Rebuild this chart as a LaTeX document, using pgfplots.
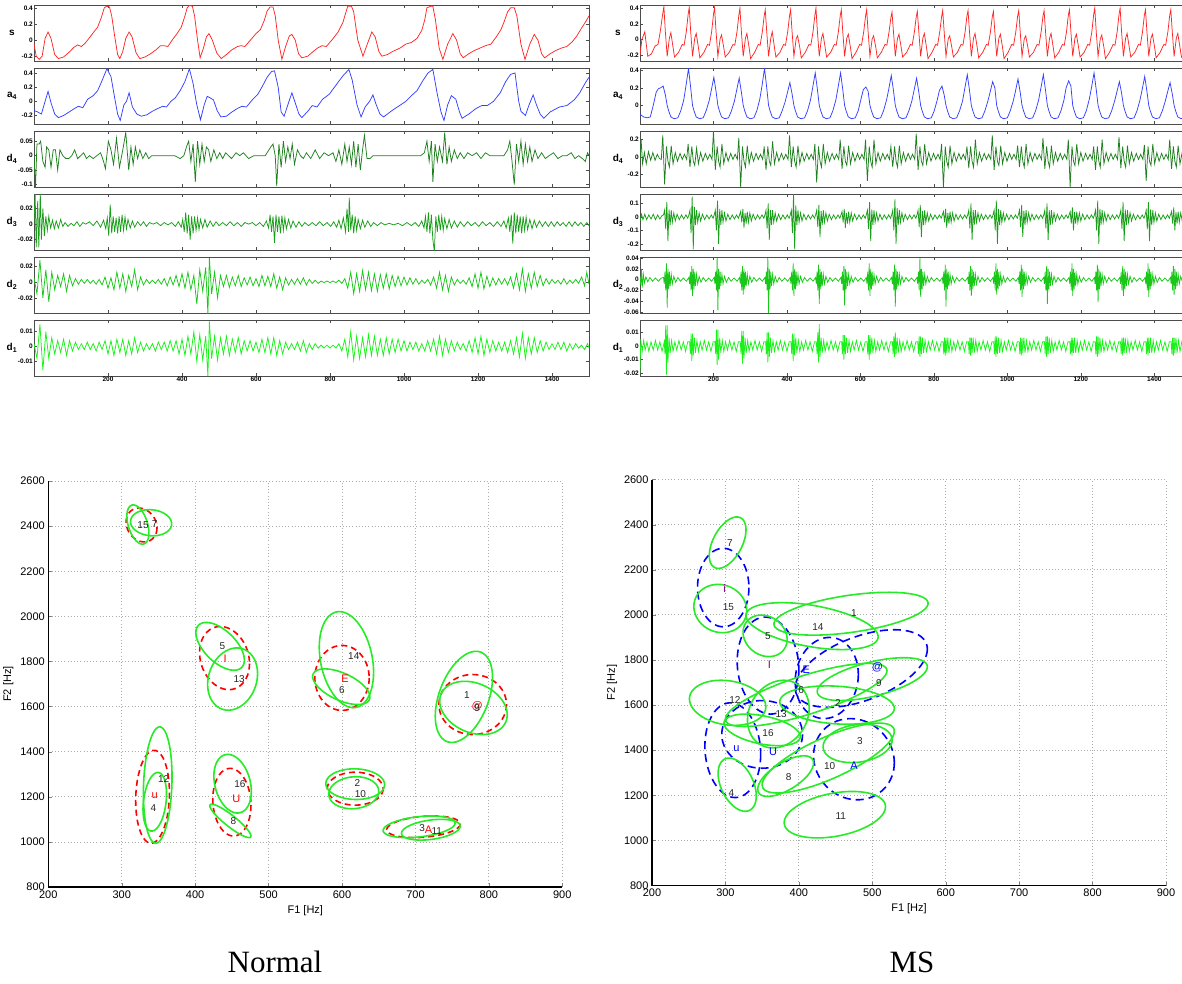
\documentclass[border=0pt]{standalone}
\usepackage{fontspec}
\setmainfont{Liberation Sans}
\newfontfamily\serifface{Liberation Serif}
\usepackage{pgfplots}
\pgfplotsset{compat=1.18}
\definecolor{sred}{rgb}{1,0.15,0.15}
\definecolor{ablue}{rgb}{0.2,0.25,1}
\definecolor{dfour}{rgb}{0.12,0.5,0.12}
\definecolor{dthree}{rgb}{0.1,0.62,0.1}
\definecolor{dtwo}{rgb}{0.1,0.78,0.1}
\definecolor{done}{rgb}{0.1,0.95,0.1}
\definecolor{egreen}{rgb}{0.15,0.92,0.15}
\tikzset{gE/.style={egreen, line width=1.6pt},
 rE/.style={red, line width=1.6pt, dash pattern=on 6pt off 4pt},
 bE/.style={blue, line width=1.6pt, dash pattern=on 8pt off 5pt}}
\pgfplotsset{
 wave/.style={scale only axis, width=#1, height=56pt, xmin=0, xmax=1500, scaled ticks=false,
  xtick={200,400,...,1400}, xticklabels={}, tick align=inside, major tick length=3pt,
  axis line style={line width=0.9pt, black!70}, tick style={black!70, line width=0.6pt},
  ticklabel style={font=\fontsize{6.5}{7}\selectfont\bfseries, inner sep=1pt},
  every axis y label/.style={at={(rel axis cs:0,0.5)}, anchor=center, xshift=-22pt, font=\fontsize{10}{12}\selectfont\bfseries},
  every axis plot/.append style={line width=0.75pt}},
 botx/.style={xticklabels={200,400,600,800,1000,1200,1400}},
 ellax/.style={scale only axis, width=514pt, height=406pt, xmin=200, xmax=900, ymin=800, ymax=2600, scaled ticks=false,
  xtick={200,300,...,900}, xticklabels={200,300,400,500,600,700,800,900},
  ytick={800,1000,...,2600}, yticklabels={800,1000,1200,1400,1600,1800,2000,2200,2400,2600},
  axis lines*=left, axis line style={line width=1.3pt, black}, tick align=inside, major tick length=4pt,
  grid=major, grid style={line width=0.8pt, gray!65, dash pattern=on 1pt off 2.2pt},
  ticklabel style={font=\fontsize{11}{12}\selectfont},
  xlabel={F1 [Hz]}, ylabel={F2 [Hz]}, label style={font=\fontsize{11}{12}\selectfont}},
 numlab/.style={draw=none, nodes near coords, point meta=explicit symbolic,
  nodes near coords style={anchor=center, inner sep=0pt, font=\fontsize{10}{11}\selectfont, text=black!85}},
 redlab/.style={draw=none, nodes near coords, point meta=explicit symbolic,
  nodes near coords style={anchor=center, inner sep=0pt, font=\fontsize{11}{12}\selectfont, text=red}},
 bluelab/.style={draw=none, nodes near coords, point meta=explicit symbolic,
  nodes near coords style={anchor=center, inner sep=0pt, font=\fontsize{11}{12}\selectfont, text=#1}}
}
\newcommand{\ellip}[6]{\addplot[#6, domain=0:360, samples=73, variable=\t] ({#1+#3*cos(\t)},{#2+#4*cos(\t+#5)});}
\begin{document}
\begin{tikzpicture}
\path[use as bounding box] (0,0) rectangle (1182pt,-983pt);
% ================= LEFT (Normal) waveforms =================
\begin{axis}[wave=555pt, at={(34pt,-5pt)}, anchor=north west, ymin=-0.26, ymax=0.435,
 ytick={-0.2,0,0.2,0.4}, yticklabels={-0.2,0,0.2,0.4}, ylabel={s}]
\addplot[sred] coordinates {(0,-0.05)(6,-0.20)(14,-0.24)(22,-0.20)(30,0.02)(38,0.10)(46,0.02)(56,-0.18)(66,-0.23)(80,-0.21)(95,-0.15)(108,-0.09)(118,-0.06)(128,-0.08)(138,-0.04)(150,0.03)(160,0.09)(172,0.16)(182,0.28)(190,0.40)(196,0.42)(204,0.41)(210,0.30)(218,0.05)(226,-0.18)(232,-0.23)(240,-0.14)(248,0.02)(257,0.10)(265,0.04)(276,-0.16)(286,-0.23)(300,-0.21)(315,-0.17)(330,-0.12)(342,-0.07)(352,-0.07)(362,-0.08)(372,-0.01)(385,0.07)(398,0.16)(408,0.30)(414,0.40)(420,0.43)(428,0.42)(434,0.30)(442,0.00)(449,-0.22)(458,-0.10)(466,0.04)(473,0.08)(482,0.00)(494,-0.16)(506,-0.23)(520,-0.18)(535,-0.12)(550,-0.08)(560,-0.07)(570,-0.08)(585,0.00)(600,0.08)(612,0.13)(622,0.24)(630,0.36)(638,0.41)(646,0.41)(652,0.30)(660,0.00)(670,-0.24)(680,-0.08)(690,0.05)(697,0.07)(706,0.00)(715,-0.17)(724,-0.22)(740,-0.20)(755,-0.14)(766,-0.10)(778,-0.07)(790,-0.08)(805,0.00)(822,0.10)(835,0.22)(842,0.33)(848,0.42)(858,0.42)(864,0.35)(875,0.00)(889,-0.20)(900,-0.06)(913,0.10)(922,0.04)(932,-0.14)(940,-0.20)(955,-0.18)(970,-0.14)(989,-0.10)(1005,-0.05)(1020,-0.03)(1035,0.02)(1048,0.12)(1056,0.25)(1062,0.40)(1072,0.42)(1078,0.42)(1085,0.25)(1095,-0.10)(1105,-0.24)(1118,-0.05)(1132,0.08)(1142,0.00)(1152,-0.17)(1160,-0.22)(1175,-0.17)(1190,-0.13)(1205,-0.10)(1220,-0.07)(1235,-0.05)(1251,0.05)(1262,0.13)(1270,0.22)(1280,0.35)(1288,0.40)(1298,0.40)(1305,0.30)(1316,-0.05)(1327,-0.24)(1340,-0.05)(1352,0.07)(1362,0.00)(1372,-0.17)(1380,-0.22)(1395,-0.17)(1410,-0.13)(1425,-0.10)(1440,-0.08)(1455,-0.02)(1467,0.05)(1480,0.15)(1490,0.22)(1500,0.30)};
\end{axis}
\begin{axis}[wave=555pt, at={(34pt,-68pt)}, anchor=north west, ymin=-0.32, ymax=0.47,
 ytick={-0.2,0,0.2,0.4}, yticklabels={-0.2,0,0.2,0.4}, ylabel={a\textsubscript{4}}]
\addplot[ablue] coordinates {(0,-0.13)(10,-0.15)(20,-0.18)(30,0.00)(38,0.14)(46,-0.02)(56,-0.18)(66,-0.23)(80,-0.20)(95,-0.15)(110,-0.10)(120,-0.07)(132,-0.09)(145,0.03)(160,0.08)(172,0.15)(183,0.28)(197,0.46)(208,0.35)(218,0.05)(226,-0.18)(233,-0.27)(243,-0.05)(250,0.00)(257,0.12)(266,-0.08)(278,-0.18)(290,-0.21)(305,-0.19)(320,-0.14)(335,-0.10)(348,-0.07)(358,-0.08)(370,0.00)(382,0.05)(395,0.15)(408,0.28)(420,0.46)(430,0.25)(440,-0.05)(450,-0.26)(460,-0.05)(468,0.07)(476,0.05)(485,0.02)(495,-0.13)(505,-0.22)(520,-0.21)(535,-0.15)(550,-0.10)(562,-0.07)(574,-0.08)(590,0.02)(605,0.10)(618,0.22)(630,0.34)(642,0.42)(650,0.43)(660,0.20)(668,-0.15)(676,-0.21)(686,-0.05)(697,0.12)(706,-0.02)(716,-0.18)(724,-0.23)(740,-0.14)(752,-0.06)(765,-0.08)(780,0.03)(798,0.10)(815,0.22)(835,0.36)(851,0.45)(860,0.30)(873,-0.05)(884,-0.22)(895,-0.08)(907,0.00)(916,0.09)(925,-0.05)(935,-0.18)(945,-0.22)(965,-0.14)(985,-0.07)(1005,0.00)(1020,0.08)(1035,0.15)(1052,0.30)(1065,0.40)(1078,0.45)(1090,0.10)(1100,-0.15)(1108,-0.27)(1118,-0.05)(1128,0.08)(1140,0.03)(1150,-0.15)(1157,-0.24)(1175,-0.18)(1195,-0.10)(1210,-0.06)(1225,-0.06)(1242,0.00)(1260,0.12)(1275,0.28)(1288,0.38)(1300,0.40)(1310,0.00)(1316,-0.14)(1328,-0.20)(1338,-0.05)(1349,0.09)(1358,-0.05)(1368,-0.18)(1378,-0.24)(1395,-0.15)(1420,-0.08)(1440,-0.06)(1460,0.02)(1475,0.12)(1490,0.26)(1500,0.34)};
\end{axis}
\begin{axis}[wave=555pt, at={(34pt,-131pt)}, anchor=north west, ymin=-0.108, ymax=0.085,
 ytick={-0.1,-0.05,0,0.05}, yticklabels={-0.1,-0.05,0,0.05}, ylabel={d\textsubscript{4}}]
\addplot[dfour] coordinates {(0,0.00)(4,-0.11)(8,0.04)(14,0.04)(18,0.05)(24,-0.02)(30,-0.04)(34,0.03)(40,0.02)(46,-0.04)(52,0.02)(58,0.02)(64,-0.05)(70,0.02)(78,0.00)(86,-0.01)(94,-0.01)(102,0.00)(110,0.02)(118,-0.01)(126,0.00)(134,0.01)(142,-0.01)(150,0.00)(160,-0.01)(170,0.00)(180,0.01)(188,-0.02)(193,-0.045)(201,0.05)(208,0.02)(215,-0.03)(223,0.06)(231,-0.04)(240,0.02)(248,0.08)(256,-0.05)(262,0.03)(268,-0.03)(274,0.03)(280,-0.01)(286,0.02)(294,-0.01)(302,0.01)(310,-0.01)(318,0.00)(326,0.00)(340,0.00)(360,0.00)(380,0.00)(395,-0.01)(405,0.00)(412,0.03)(418,0.05)(424,-0.02)(430,0.04)(436,-0.09)(442,0.05)(448,-0.03)(454,0.04)(460,-0.02)(466,0.03)(472,0.02)(478,-0.02)(486,0.02)(494,-0.01)(502,0.01)(510,-0.01)(518,0.01)(526,0.00)(534,-0.01)(546,0.01)(556,0.00)(566,0.01)(580,-0.01)(594,0.00)(610,0.00)(625,0.00)(640,0.03)(646,0.04)(652,0.00)(656,-0.105)(662,0.04)(668,-0.04)(674,0.05)(680,-0.02)(686,0.03)(692,-0.01)(698,0.04)(704,-0.03)(712,0.02)(720,0.00)(728,-0.01)(736,0.01)(748,-0.01)(760,0.02)(772,-0.01)(784,0.01)(796,0.00)(808,0.01)(816,-0.02)(824,0.02)(832,-0.03)(840,0.04)(846,-0.02)(852,0.03)(858,-0.03)(864,0.05)(870,-0.04)(876,0.04)(882,-0.05)(888,0.02)(893,0.07)(900,-0.01)(908,-0.01)(916,0.00)(930,0.00)(950,0.00)(970,0.00)(990,0.00)(1010,0.00)(1030,0.00)(1045,0.00)(1055,0.01)(1062,0.05)(1068,-0.02)(1074,0.05)(1078,-0.09)(1084,0.04)(1090,-0.02)(1096,0.03)(1104,-0.02)(1110,0.08)(1116,-0.03)(1122,0.03)(1128,-0.02)(1136,0.02)(1144,-0.01)(1152,0.01)(1162,-0.01)(1172,0.01)(1184,0.00)(1196,0.01)(1208,-0.01)(1220,0.01)(1232,0.00)(1244,0.00)(1256,0.00)(1270,0.00)(1280,0.02)(1286,0.05)(1292,-0.02)(1298,-0.10)(1304,0.04)(1310,-0.02)(1316,0.05)(1322,-0.03)(1328,0.04)(1334,-0.02)(1340,0.03)(1346,-0.02)(1354,0.02)(1362,-0.01)(1372,0.01)(1382,-0.01)(1392,0.00)(1404,0.01)(1416,-0.01)(1428,0.00)(1440,0.00)(1452,0.01)(1462,-0.01)(1472,0.00)(1482,-0.01)(1490,-0.02)(1496,0.01)(1500,0.00)};
\end{axis}
\begin{axis}[wave=555pt, at={(34pt,-194pt)}, anchor=north west, ymin=-0.0333, ymax=0.0387,
 ytick={-0.02,0,0.02}, yticklabels={-0.02,0,0.02}, ylabel={d\textsubscript{3}}]
\addplot[dthree] coordinates {(0,0.00)(3,0.04)(6,-0.03)(10,0.03)(13,-0.03)(17,0.04)(20,-0.02)(24,0.02)(28,-0.015)(32,0.01)(36,-0.008)(40,0.01)(45,-0.005)(50,0.005)(55,-0.006)(60,0.004)(66,-0.005)(72,0.006)(78,-0.003)(84,0.002)(92,-0.003)(100,0.001)(108,-0.002)(116,0.003)(124,-0.003)(132,0.002)(140,0.000)(150,0.003)(160,-0.002)(170,0.004)(180,-0.004)(188,0.005)(194,-0.006)(198,0.008)(202,-0.015)(206,0.025)(210,-0.012)(214,0.01)(218,-0.01)(222,0.008)(226,-0.012)(230,0.01)(234,-0.01)(238,0.012)(242,-0.008)(246,0.009)(250,-0.006)(254,0.006)(260,-0.005)(266,0.004)(272,-0.004)(280,0.003)(288,-0.002)(296,0.003)(304,-0.003)(312,0.002)(322,0.000)(332,0.002)(342,-0.002)(352,0.002)(362,-0.001)(372,0.002)(382,-0.003)(390,0.003)(398,-0.004)(402,0.006)(406,-0.01)(410,0.015)(414,-0.012)(418,0.012)(422,-0.02)(426,0.01)(430,-0.012)(434,0.01)(438,-0.008)(442,0.008)(446,-0.007)(450,0.006)(456,-0.005)(462,0.006)(468,-0.004)(476,0.004)(484,-0.003)(492,0.003)(500,-0.002)(510,0.002)(520,-0.002)(530,0.003)(540,-0.002)(550,0.002)(560,-0.003)(570,0.002)(580,0.000)(590,0.002)(600,-0.002)(610,0.002)(620,-0.003)(628,0.004)(634,-0.005)(638,0.012)(642,-0.01)(646,0.01)(650,-0.024)(654,0.012)(658,-0.01)(662,0.01)(666,-0.012)(670,0.011)(674,-0.008)(678,0.008)(682,-0.006)(688,0.006)(694,-0.005)(700,0.004)(708,-0.004)(716,0.003)(724,-0.003)(732,0.002)(742,-0.002)(752,0.002)(762,-0.002)(772,0.003)(782,-0.002)(792,0.002)(802,-0.003)(810,0.003)(818,-0.004)(824,0.005)(830,-0.006)(836,0.008)(842,-0.01)(846,0.02)(850,-0.01)(852,0.034)(856,-0.008)(860,0.012)(864,-0.012)(868,0.01)(872,-0.008)(876,0.006)(882,-0.006)(888,0.005)(894,-0.004)(902,0.004)(910,-0.003)(918,0.002)(928,-0.002)(938,0.002)(948,-0.001)(960,0.001)(972,-0.001)(984,0.001)(996,-0.002)(1008,0.002)(1020,-0.002)(1030,0.002)(1040,-0.003)(1048,0.004)(1054,-0.005)(1058,0.01)(1062,-0.01)(1066,0.015)(1070,-0.012)(1074,0.012)(1078,-0.02)(1082,-0.035)(1086,0.01)(1090,-0.01)(1094,0.012)(1098,-0.008)(1102,0.01)(1106,-0.008)(1110,0.007)(1116,-0.006)(1122,0.006)(1128,-0.005)(1136,0.004)(1144,-0.004)(1152,0.003)(1162,-0.003)(1172,0.003)(1182,-0.002)(1192,0.002)(1202,-0.003)(1212,0.003)(1222,-0.002)(1232,0.002)(1242,-0.003)(1252,0.003)(1262,-0.003)(1270,0.004)(1276,-0.005)(1282,0.008)(1286,-0.01)(1290,0.012)(1294,-0.025)(1298,0.015)(1302,-0.012)(1306,0.012)(1310,-0.01)(1314,0.01)(1318,-0.012)(1322,0.01)(1326,-0.008)(1330,0.009)(1334,-0.007)(1340,0.006)(1346,-0.006)(1352,0.005)(1358,-0.004)(1366,0.004)(1374,-0.003)(1382,0.003)(1390,-0.003)(1398,0.003)(1406,-0.003)(1414,0.003)(1422,-0.002)(1430,0.002)(1438,-0.003)(1446,0.003)(1454,-0.003)(1462,0.003)(1470,-0.002)(1478,0.002)(1486,-0.003)(1494,0.002)(1500,-0.002)};
\end{axis}
\begin{axis}[wave=555pt, at={(34pt,-257pt)}, anchor=north west, ymin=-0.039, ymax=0.031,
 ytick={-0.02,0,0.02}, yticklabels={-0.02,0,0.02}, ylabel={d\textsubscript{2}}]
\addplot[dtwo] coordinates {(0,0.005)(8,-0.015)(16,0.027)(24,-0.02)(32,0.015)(40,-0.025)(48,0.012)(56,-0.01)(64,0.008)(72,-0.006)(80,0.01)(88,-0.012)(96,0.008)(104,-0.005)(112,0.004)(120,-0.003)(128,0.003)(136,-0.002)(144,0.003)(152,-0.002)(160,0.002)(168,-0.003)(176,0.003)(184,-0.004)(192,0.006)(200,-0.008)(208,0.005)(216,-0.01)(224,0.012)(232,-0.008)(240,0.01)(248,-0.012)(256,0.008)(264,-0.006)(272,0.015)(280,-0.01)(288,0.006)(296,-0.004)(304,0.003)(312,-0.002)(320,0.002)(328,-0.002)(336,0.003)(344,-0.003)(352,0.004)(360,-0.005)(368,0.006)(376,-0.004)(384,0.008)(392,-0.006)(400,0.01)(408,-0.008)(416,0.012)(424,-0.01)(432,0.008)(440,-0.028)(448,0.015)(456,-0.012)(464,0.018)(470,-0.04)(474,0.03)(480,-0.015)(488,0.012)(496,-0.02)(504,0.008)(512,-0.006)(520,0.008)(528,-0.007)(536,0.006)(544,-0.005)(552,0.008)(560,-0.006)(568,0.005)(576,-0.004)(584,0.006)(592,-0.005)(600,0.004)(608,-0.006)(616,0.008)(624,-0.005)(632,0.007)(640,-0.006)(648,0.01)(656,-0.008)(664,0.006)(672,-0.01)(680,0.005)(688,-0.004)(696,0.003)(704,-0.003)(712,0.004)(720,-0.003)(728,0.005)(736,-0.004)(744,0.003)(752,-0.002)(760,0.002)(768,-0.002)(776,0.001)(784,-0.001)(792,0.001)(800,-0.001)(808,0.001)(816,-0.001)(824,0.002)(832,-0.002)(840,0.004)(848,-0.008)(856,0.012)(864,-0.015)(872,0.01)(880,-0.012)(888,0.014)(896,-0.01)(904,0.012)(912,-0.011)(920,0.01)(928,-0.012)(936,0.009)(944,-0.008)(952,0.01)(960,-0.009)(968,0.008)(976,-0.006)(984,0.007)(992,-0.005)(1000,0.006)(1008,-0.004)(1016,0.005)(1024,-0.003)(1032,0.004)(1040,-0.003)(1048,0.002)(1056,-0.002)(1064,0.003)(1072,-0.004)(1080,0.006)(1088,-0.008)(1096,0.012)(1104,-0.01)(1112,0.008)(1120,-0.012)(1128,0.006)(1136,-0.004)(1144,0.003)(1152,-0.002)(1160,0.002)(1168,-0.003)(1176,0.005)(1184,-0.006)(1192,0.01)(1200,-0.008)(1208,0.012)(1216,-0.009)(1224,0.007)(1232,-0.006)(1240,0.005)(1248,-0.004)(1256,0.004)(1264,-0.003)(1272,0.004)(1280,-0.004)(1288,0.006)(1296,-0.008)(1304,0.01)(1312,-0.01)(1320,0.016)(1328,-0.012)(1336,0.01)(1344,-0.008)(1352,0.012)(1360,-0.006)(1368,0.008)(1376,-0.005)(1384,0.004)(1392,-0.003)(1400,0.003)(1408,-0.002)(1416,0.002)(1424,-0.003)(1432,0.004)(1440,-0.003)(1448,0.002)(1456,-0.002)(1464,0.003)(1472,-0.002)(1480,0.006)(1488,-0.005)(1494,0.012)(1500,-0.003)};
\end{axis}
\begin{axis}[wave=555pt, botx, at={(34pt,-320pt)}, anchor=north west, ymin=-0.0198, ymax=0.0179,
 ytick={-0.01,0,0.01}, yticklabels={-0.01,0,0.01}, ylabel={d\textsubscript{1}}]
\addplot[done] coordinates {(0,0.002)(8,-0.008)(16,0.015)(24,-0.016)(32,0.01)(40,-0.008)(48,0.006)(56,-0.005)(64,0.004)(72,-0.004)(80,0.005)(88,-0.006)(96,0.004)(104,-0.003)(112,0.003)(120,-0.002)(128,0.002)(136,-0.002)(144,0.003)(152,-0.002)(160,0.002)(168,-0.003)(176,0.003)(184,-0.002)(192,0.004)(200,-0.005)(208,0.004)(216,-0.006)(224,0.005)(232,-0.004)(240,0.005)(248,-0.006)(256,0.004)(264,-0.005)(272,0.006)(280,-0.004)(288,0.003)(296,-0.003)(304,0.002)(312,-0.002)(320,0.002)(328,-0.003)(336,0.003)(344,-0.002)(352,0.003)(360,-0.003)(368,0.004)(376,-0.003)(384,0.004)(392,-0.005)(400,0.005)(408,-0.006)(416,0.007)(424,-0.005)(432,0.01)(440,-0.01)(448,0.008)(456,-0.009)(464,0.007)(470,-0.02)(474,0.017)(480,-0.008)(488,0.007)(496,-0.009)(504,0.006)(512,-0.005)(520,0.007)(528,-0.006)(536,0.005)(544,-0.004)(552,0.006)(560,-0.005)(568,0.004)(576,-0.003)(584,0.004)(592,-0.003)(600,0.003)(608,-0.004)(616,0.005)(624,-0.004)(632,0.006)(640,-0.005)(648,0.006)(656,-0.006)(664,0.004)(672,-0.005)(680,0.003)(688,-0.002)(696,0.002)(704,-0.002)(712,0.003)(720,-0.003)(728,0.004)(736,-0.004)(744,0.002)(752,-0.002)(760,0.002)(768,-0.001)(776,0.001)(784,-0.001)(792,0.001)(800,-0.001)(808,0.001)(816,-0.001)(824,0.002)(832,-0.003)(840,0.005)(848,-0.007)(856,0.01)(864,-0.009)(872,0.007)(880,-0.008)(888,0.006)(896,-0.007)(904,0.008)(912,-0.006)(920,0.007)(928,-0.006)(936,0.005)(944,-0.006)(952,0.006)(960,-0.005)(968,0.005)(976,-0.004)(984,0.005)(992,-0.003)(1000,0.004)(1008,-0.003)(1016,0.003)(1024,-0.002)(1032,0.003)(1040,-0.003)(1048,0.002)(1056,-0.003)(1064,0.004)(1072,-0.003)(1080,0.005)(1088,-0.005)(1096,0.007)(1104,-0.006)(1112,0.005)(1120,-0.004)(1128,0.004)(1136,-0.003)(1144,0.003)(1152,-0.002)(1160,0.002)(1168,-0.003)(1176,0.004)(1184,-0.004)(1192,0.006)(1200,-0.005)(1208,0.007)(1216,-0.006)(1224,0.005)(1232,-0.004)(1240,0.004)(1248,-0.003)(1256,0.003)(1264,-0.003)(1272,0.003)(1280,-0.004)(1288,0.004)(1296,-0.005)(1304,0.006)(1312,-0.007)(1320,0.009)(1328,-0.008)(1336,0.006)(1344,-0.005)(1352,0.006)(1360,-0.004)(1368,0.004)(1376,-0.003)(1384,0.003)(1392,-0.002)(1400,0.002)(1408,-0.002)(1416,0.003)(1424,-0.002)(1432,0.003)(1440,-0.003)(1448,0.002)(1456,-0.002)(1464,0.002)(1472,-0.001)(1480,0.001)(1488,-0.002)(1496,0.002)(1500,-0.001)};
\end{axis}
% ================= RIGHT (MS) waveforms =================
\begin{axis}[wave=551pt, at={(640pt,-5pt)}, anchor=north west, ymin=-0.27, ymax=0.44,
 ytick={-0.2,0,0.2,0.4}, yticklabels={-0.2,0,0.2,0.4}, ylabel={s}]
\addplot[sred] coordinates {(0,-0.20)(5,0.00)(13,0.10)(21,-0.21)(31,-0.18)(41,-0.08)(49,-0.06)(55,0.10)(61,0.30)
(65,0.42)(69,0.10)(74,-0.21)(80,0.02)(84,0.09)(90,-0.10)(94,-0.22)(105,-0.16)(115,-0.06)(120,-0.07)(126,0.10)(131,0.32)
(134,0.41)(138,0.10)(143,-0.21)(149,0.02)(153,0.08)(159,-0.10)(163,-0.23)(174,-0.16)(184,-0.06)(189,-0.07)(195,0.10)(200,0.32)
(203,0.41)(207,0.10)(212,-0.21)(218,0.01)(222,0.06)(228,-0.10)(232,-0.22)(243,-0.16)(253,-0.06)(258,-0.07)(264,0.10)(269,0.31)
(272,0.40)(276,0.10)(281,-0.21)(287,0.02)(291,0.08)(297,-0.10)(301,-0.24)(312,-0.16)(322,-0.06)(327,-0.07)(333,0.10)(338,0.30)
(341,0.38)(345,0.10)(350,-0.21)(356,0.02)(360,0.10)(366,-0.10)(370,-0.22)(381,-0.16)(391,-0.06)(396,-0.07)(402,0.10)(407,0.30)
(410,0.38)(414,0.10)(419,-0.21)(425,0.01)(429,0.05)(435,-0.10)(439,-0.23)(450,-0.16)(460,-0.06)(465,-0.07)(471,0.10)(476,0.31)
(479,0.40)(483,0.10)(488,-0.21)(494,0.02)(498,0.08)(504,-0.10)(508,-0.22)(519,-0.16)(529,-0.06)(534,-0.07)(540,0.10)(545,0.30)
(548,0.38)(552,0.10)(557,-0.21)(563,0.02)(567,0.07)(573,-0.10)(577,-0.24)(588,-0.16)(598,-0.06)(603,-0.07)(609,0.10)(614,0.30)
(617,0.38)(621,0.10)(626,-0.21)(632,0.01)(636,0.05)(642,-0.10)(646,-0.23)(657,-0.16)(667,-0.06)(672,-0.07)(678,0.10)(683,0.28)
(686,0.35)(690,0.10)(695,-0.21)(701,0.02)(705,0.07)(711,-0.10)(715,-0.22)(726,-0.16)(736,-0.06)(741,-0.07)(747,0.10)(752,0.29)
(755,0.36)(759,0.10)(764,-0.21)(770,0.02)(774,0.08)(780,-0.10)(784,-0.24)(795,-0.16)(805,-0.06)(810,-0.07)(816,0.10)(821,0.29)
(824,0.37)(828,0.10)(833,-0.21)(839,0.01)(843,0.05)(849,-0.10)(853,-0.22)(864,-0.16)(874,-0.06)(879,-0.07)(885,0.10)(890,0.30)
(893,0.37)(897,0.10)(902,-0.21)(908,0.02)(912,0.08)(918,-0.10)(922,-0.23)(933,-0.16)(943,-0.06)(948,-0.07)(954,0.10)(959,0.29)
(962,0.36)(966,0.10)(971,-0.21)(977,0.02)(981,0.07)(987,-0.10)(991,-0.24)(1002,-0.16)(1012,-0.06)(1017,-0.07)(1023,0.10)(1028,0.30)
(1031,0.37)(1035,0.10)(1040,-0.21)(1046,0.01)(1050,0.05)(1056,-0.10)(1060,-0.22)(1071,-0.16)(1081,-0.06)(1086,-0.07)(1092,0.10)(1097,0.30)
(1100,0.37)(1104,0.10)(1109,-0.21)(1115,0.02)(1119,0.08)(1125,-0.10)(1129,-0.23)(1140,-0.16)(1150,-0.06)(1155,-0.07)(1161,0.10)(1166,0.31)
(1169,0.38)(1173,0.10)(1178,-0.21)(1184,0.02)(1188,0.07)(1194,-0.10)(1198,-0.22)(1209,-0.16)(1219,-0.06)(1224,-0.07)(1230,0.10)(1235,0.32)
(1238,0.40)(1242,0.10)(1247,-0.21)(1253,0.01)(1257,0.06)(1263,-0.10)(1267,-0.24)(1278,-0.16)(1288,-0.06)(1293,-0.07)(1299,0.10)(1304,0.32)
(1307,0.40)(1311,0.10)(1316,-0.21)(1322,0.02)(1326,0.08)(1332,-0.10)(1336,-0.22)(1347,-0.16)(1357,-0.06)(1362,-0.07)(1368,0.10)(1373,0.31)
(1376,0.38)(1380,0.10)(1385,-0.21)(1391,0.02)(1395,0.07)(1401,-0.10)(1405,-0.23)(1416,-0.16)(1426,-0.06)(1431,-0.07)(1437,0.10)(1442,0.31)
(1445,0.38)(1449,0.10)(1454,-0.21)(1460,0.02)(1464,0.08)(1470,-0.10)(1474,-0.22)(1485,-0.16)(1495,-0.06)(1500,-0.07)};
\end{axis}
\begin{axis}[wave=551pt, at={(640pt,-68pt)}, anchor=north west, ymin=-0.21, ymax=0.425,
 ytick={0,0.2,0.4}, yticklabels={0,0.2,0.4}, ylabel={a\textsubscript{4}}]
\addplot[ablue] coordinates {(0,-0.10)(10,-0.13)(20,-0.14)(28,-0.13)(36,0.00)(44,0.15)(50,0.19)(56,0.20)
(63,0.22)(69,0.12)(74,0.00)(78,-0.06)(84,-0.13)(93,-0.15)(103,-0.14)(111,-0.06)(119,0.06)(125,0.22)
(132,0.42)(138,0.20)(143,0.00)(147,-0.06)(153,-0.13)(162,-0.15)(172,-0.14)(180,-0.06)(188,0.05)(194,0.17)
(201,0.32)(207,0.16)(212,0.00)(216,-0.06)(222,-0.13)(231,-0.15)(241,-0.14)(249,-0.06)(257,0.05)(263,0.17)
(270,0.31)(276,0.15)(281,0.00)(285,-0.06)(291,-0.13)(300,-0.15)(310,-0.14)(318,-0.06)(326,0.07)(332,0.22)
(339,0.42)(345,0.20)(350,0.00)(354,-0.06)(360,-0.13)(369,-0.15)(379,-0.14)(387,-0.06)(395,0.04)(401,0.14)
(408,0.26)(414,0.13)(419,0.00)(423,-0.06)(429,-0.13)(438,-0.15)(448,-0.14)(456,-0.06)(464,0.06)(470,0.20)
(477,0.37)(483,0.18)(488,0.00)(492,-0.06)(498,-0.13)(507,-0.15)(517,-0.14)(525,-0.06)(533,0.06)(539,0.20)
(546,0.37)(552,0.18)(557,0.00)(561,-0.06)(567,-0.13)(576,-0.15)(586,-0.14)(594,-0.06)(602,0.08)(608,0.18)
(615,0.21)(621,0.16)(626,0.00)(630,-0.06)(636,-0.13)(645,-0.15)(655,-0.14)(663,-0.06)(671,0.06)(677,0.18)
(684,0.34)(690,0.17)(695,0.00)(699,-0.06)(705,-0.13)(714,-0.15)(724,-0.14)(732,-0.06)(740,0.05)(746,0.17)
(753,0.31)(759,0.15)(764,0.00)(768,-0.06)(774,-0.13)(783,-0.15)(793,-0.14)(801,-0.06)(809,0.06)(815,0.17)
(822,0.22)(828,0.12)(833,0.00)(837,-0.06)(843,-0.13)(852,-0.15)(862,-0.14)(870,-0.06)(878,0.05)(884,0.19)
(891,0.35)(897,0.17)(902,0.00)(906,-0.06)(912,-0.13)(921,-0.15)(931,-0.14)(939,-0.06)(947,0.05)(953,0.15)
(960,0.27)(966,0.20)(971,0.00)(975,-0.06)(981,-0.13)(990,-0.15)(1000,-0.14)(1008,-0.06)(1016,0.05)(1022,0.16)
(1029,0.30)(1035,0.15)(1040,0.00)(1044,-0.06)(1050,-0.13)(1059,-0.15)(1069,-0.14)(1077,-0.06)(1085,0.06)(1091,0.19)
(1098,0.35)(1104,0.17)(1109,0.00)(1113,-0.06)(1119,-0.13)(1128,-0.15)(1138,-0.14)(1146,-0.06)(1154,0.06)(1160,0.20)
(1167,0.28)(1173,0.22)(1178,0.00)(1182,-0.06)(1188,-0.13)(1197,-0.15)(1207,-0.14)(1215,-0.06)(1223,0.07)(1229,0.20)
(1236,0.37)(1242,0.18)(1247,0.00)(1251,-0.06)(1257,-0.13)(1266,-0.15)(1276,-0.14)(1284,-0.06)(1292,0.05)(1298,0.15)
(1305,0.27)(1311,0.14)(1316,0.00)(1320,-0.06)(1326,-0.13)(1335,-0.15)(1345,-0.14)(1353,-0.06)(1361,0.06)(1367,0.18)
(1374,0.33)(1380,0.16)(1385,0.00)(1389,-0.06)(1395,-0.13)(1404,-0.15)(1414,-0.14)(1422,-0.06)(1430,0.05)(1436,0.15)
(1443,0.26)(1449,0.13)(1454,0.00)(1458,-0.06)(1464,-0.13)(1473,-0.15)(1483,-0.14)(1491,-0.06)(1500,0.05)};
\end{axis}
\begin{axis}[wave=551pt, at={(640pt,-131pt)}, anchor=north west, ymin=-0.35, ymax=0.3,
 ytick={-0.2,0,0.2}, yticklabels={-0.2,0,0.2}, ylabel={d\textsubscript{4}}]
\addplot[dfour] coordinates {(0,-0.05)(3,0.2)(7,-0.08)(12,0.05)(17,-0.08)(23,0.06)(29,-0.04)(35,0.05)(41,-0.04)(47,0.03)(53,-0.02)
(58,-0.03)(62,0.25)(67,-0.32)(72,0.12)(76,-0.05)(80,-0.12)(85,0.13)(90,-0.08)(96,0.05)(102,-0.05)(109,0.04)(115,-0.03)(121,0.03)
(127,-0.03)(131,0.15)(136,-0.12)(141,0.12)(145,-0.05)(149,-0.10)(154,0.10)(159,-0.08)(165,0.05)(171,-0.05)(178,0.04)(184,-0.03)(190,0.03)
(196,-0.03)(200,0.30)(205,-0.15)(210,0.12)(214,-0.05)(218,-0.12)(223,0.15)(228,-0.08)(234,0.05)(240,-0.05)(247,0.04)(253,-0.03)(259,0.03)
(265,-0.03)(269,0.22)(274,-0.35)(279,0.12)(283,-0.05)(287,-0.12)(292,0.13)(297,-0.08)(303,0.05)(309,-0.05)(316,0.04)(322,-0.03)(328,0.03)
(334,-0.03)(338,0.12)(343,-0.15)(348,0.12)(352,-0.05)(356,-0.10)(361,0.18)(366,-0.08)(372,0.05)(378,-0.05)(385,0.04)(391,-0.03)(397,0.03)
(403,-0.03)(407,0.25)(412,-0.12)(417,0.12)(421,-0.05)(425,-0.12)(430,0.13)(435,-0.08)(441,0.05)(447,-0.05)(454,0.04)(460,-0.03)(466,0.03)
(472,-0.03)(476,0.15)(481,-0.30)(486,0.12)(490,-0.05)(494,-0.12)(499,0.15)(504,-0.08)(510,0.05)(516,-0.05)(523,0.04)(529,-0.03)(535,0.03)
(541,-0.03)(545,0.20)(550,-0.14)(555,0.12)(559,-0.05)(563,-0.10)(568,0.13)(573,-0.08)(579,0.05)(585,-0.05)(592,0.04)(598,-0.03)(604,0.03)
(610,-0.03)(614,0.20)(619,-0.28)(624,0.12)(628,-0.05)(632,-0.12)(637,0.20)(642,-0.08)(648,0.05)(654,-0.05)(661,0.04)(667,-0.03)(673,0.03)
(679,-0.03)(683,0.12)(688,-0.12)(693,0.12)(697,-0.05)(701,-0.12)(706,0.13)(711,-0.08)(717,0.05)(723,-0.05)(730,0.04)(736,-0.03)(742,0.03)
(748,-0.03)(752,0.27)(757,-0.15)(762,0.12)(766,-0.05)(770,-0.10)(775,0.15)(780,-0.08)(786,0.05)(792,-0.05)(799,0.04)(805,-0.03)(811,0.03)
(817,-0.03)(821,0.15)(826,-0.35)(831,0.12)(835,-0.05)(839,-0.12)(844,0.13)(849,-0.08)(855,0.05)(861,-0.05)(868,0.04)(874,-0.03)(880,0.03)
(886,-0.03)(890,0.12)(895,-0.13)(900,0.12)(904,-0.05)(908,-0.12)(913,0.20)(918,-0.08)(924,0.05)(930,-0.05)(937,0.04)(943,-0.03)(949,0.03)
(955,-0.03)(959,0.25)(964,-0.15)(969,0.12)(973,-0.05)(977,-0.10)(982,0.13)(987,-0.08)(993,0.05)(999,-0.05)(1006,0.04)(1012,-0.03)(1018,0.03)
(1024,-0.03)(1028,0.13)(1033,-0.12)(1038,0.12)(1042,-0.05)(1046,-0.12)(1051,0.15)(1056,-0.08)(1062,0.05)(1068,-0.05)(1075,0.04)(1081,-0.03)(1087,0.03)
(1093,-0.03)(1097,0.22)(1102,-0.14)(1107,0.12)(1111,-0.05)(1115,-0.12)(1120,0.13)(1125,-0.08)(1131,0.05)(1137,-0.05)(1144,0.04)(1150,-0.03)(1156,0.03)
(1162,-0.03)(1166,0.20)(1171,-0.35)(1176,0.12)(1180,-0.05)(1184,-0.10)(1189,0.15)(1194,-0.08)(1200,0.05)(1206,-0.05)(1213,0.04)(1219,-0.03)(1225,0.03)
(1231,-0.03)(1235,0.12)(1240,-0.15)(1245,0.12)(1249,-0.05)(1253,-0.12)(1258,0.20)(1263,-0.08)(1269,0.05)(1275,-0.05)(1282,0.04)(1288,-0.03)(1294,0.03)
(1300,-0.03)(1304,0.23)(1309,-0.13)(1314,0.12)(1318,-0.05)(1322,-0.12)(1327,0.13)(1332,-0.08)(1338,0.05)(1344,-0.05)(1351,0.04)(1357,-0.03)(1363,0.03)
(1369,-0.03)(1373,0.14)(1378,-0.28)(1383,0.12)(1387,-0.05)(1391,-0.10)(1396,0.15)(1401,-0.08)(1407,0.05)(1413,-0.05)(1420,0.04)(1426,-0.03)(1432,0.03)
(1438,-0.03)(1442,0.20)(1447,-0.14)(1452,0.12)(1456,-0.05)(1460,-0.12)(1465,0.13)(1470,-0.08)(1476,0.05)(1482,-0.05)(1489,0.04)(1495,-0.03)(1500,0.03)};
\end{axis}
\begin{axis}[wave=551pt, at={(640pt,-194pt)}, anchor=north west, ymin=-0.245, ymax=0.17,
 ytick={-0.2,-0.1,0,0.1}, yticklabels={-0.2,-0.1,0,0.1}, ylabel={d\textsubscript{3}}]
\addplot[dthree] coordinates {(0,-0.03)(4,0.02)(8,-0.02)(13,0.02)(18,-0.02)(24,0.015)(30,-0.015)(36,0.02)(42,-0.02)(48,0.015)(54,-0.015)(60,0.01)
(64,0.015)(67,0.05)(70,-0.09)(73,0.11)(76,-0.18)(79,0.055)(82,-0.06)(85,0.05)(88,-0.04)(92,0.03)(96,-0.03)(101,0.02)(107,-0.02)(113,0.015)(119,-0.015)(125,0.015)(130,-0.01)
(133,0.015)(136,0.05)(139,-0.12)(142,0.15)(145,-0.24)(148,0.075)(151,-0.06)(154,0.05)(157,-0.04)(161,0.03)(165,-0.03)(170,0.02)(176,-0.02)(182,0.015)(188,-0.015)(194,0.015)(199,-0.01)
(202,0.015)(205,0.05)(208,-0.10)(211,0.12)(214,-0.20)(217,0.06)(220,-0.06)(223,0.05)(226,-0.04)(230,0.03)(234,-0.03)(239,0.02)(245,-0.02)(251,0.015)(257,-0.015)(263,0.015)(268,-0.01)
(271,0.015)(274,0.04)(277,-0.04)(280,0.06)(283,-0.08)(286,0.03)(289,-0.05)(292,0.04)(295,-0.04)(299,0.03)(303,-0.03)(308,0.02)(314,-0.02)(320,0.015)(326,-0.015)(332,0.015)(337,-0.01)
(340,0.015)(343,0.05)(346,-0.085)(349,0.10)(352,-0.17)(355,0.05)(358,-0.06)(361,0.05)(364,-0.04)(368,0.03)(372,-0.03)(377,0.02)(383,-0.02)(389,0.015)(395,-0.015)(401,0.015)(406,-0.01)
(409,0.015)(412,0.05)(415,-0.12)(418,0.17)(421,-0.24)(424,0.085)(427,-0.06)(430,0.05)(433,-0.04)(437,0.03)(441,-0.03)(446,0.02)(452,-0.02)(458,0.015)(464,-0.015)(470,0.015)(475,-0.01)
(478,0.015)(481,0.05)(484,-0.075)(487,0.09)(490,-0.15)(493,0.045)(496,-0.06)(499,0.05)(502,-0.04)(506,0.03)(510,-0.03)(515,0.02)(521,-0.02)(527,0.015)(533,-0.015)(539,0.015)(544,-0.01)
(547,0.015)(550,0.04)(553,-0.04)(556,0.06)(559,-0.08)(562,0.03)(565,-0.05)(568,0.04)(571,-0.04)(575,0.03)(579,-0.03)(584,0.02)(590,-0.02)(596,0.015)(602,-0.015)(608,0.015)(613,-0.01)
(616,0.015)(619,0.05)(622,-0.09)(625,0.11)(628,-0.18)(631,0.055)(634,-0.06)(637,0.05)(640,-0.04)(644,0.03)(648,-0.03)(653,0.02)(659,-0.02)(665,0.015)(671,-0.015)(677,0.015)(682,-0.01)
(685,0.015)(688,0.05)(691,-0.10)(694,0.13)(697,-0.20)(700,0.065)(703,-0.06)(706,0.05)(709,-0.04)(713,0.03)(717,-0.03)(722,0.02)(728,-0.02)(734,0.015)(740,-0.015)(746,0.015)(751,-0.01)
(754,0.015)(757,0.05)(760,-0.075)(763,0.09)(766,-0.15)(769,0.045)(772,-0.06)(775,0.05)(778,-0.04)(782,0.03)(786,-0.03)(791,0.02)(797,-0.02)(803,0.015)(809,-0.015)(815,0.015)(820,-0.01)
(823,0.015)(826,0.04)(829,-0.04)(832,0.06)(835,-0.08)(838,0.03)(841,-0.05)(844,0.04)(847,-0.04)(851,0.03)(855,-0.03)(860,0.02)(866,-0.02)(872,0.015)(878,-0.015)(884,0.015)(889,-0.01)
(892,0.015)(895,0.05)(898,-0.085)(901,0.10)(904,-0.17)(907,0.05)(910,-0.06)(913,0.05)(916,-0.04)(920,0.03)(924,-0.03)(929,0.02)(935,-0.02)(941,0.015)(947,-0.015)(953,0.015)(958,-0.01)
(961,0.015)(964,0.05)(967,-0.10)(970,0.12)(973,-0.20)(976,0.06)(979,-0.06)(982,0.05)(985,-0.04)(989,0.03)(993,-0.03)(998,0.02)(1004,-0.02)(1010,0.015)(1016,-0.015)(1022,0.015)(1027,-0.01)
(1030,0.015)(1033,0.05)(1036,-0.075)(1039,0.09)(1042,-0.15)(1045,0.045)(1048,-0.06)(1051,0.05)(1054,-0.04)(1058,0.03)(1062,-0.03)(1067,0.02)(1073,-0.02)(1079,0.015)(1085,-0.015)(1091,0.015)(1096,-0.01)
(1099,0.015)(1102,0.05)(1105,-0.085)(1108,0.10)(1111,-0.17)(1114,0.05)(1117,-0.06)(1120,0.05)(1123,-0.04)(1127,0.03)(1131,-0.03)(1136,0.02)(1142,-0.02)(1148,0.015)(1154,-0.015)(1160,0.015)(1165,-0.01)
(1168,0.015)(1171,0.04)(1174,-0.05)(1177,0.07)(1180,-0.10)(1183,0.035)(1186,-0.05)(1189,0.04)(1192,-0.04)(1196,0.03)(1200,-0.03)(1205,0.02)(1211,-0.02)(1217,0.015)(1223,-0.015)(1229,0.015)(1234,-0.01)
(1237,0.015)(1240,0.05)(1243,-0.10)(1246,0.12)(1249,-0.20)(1252,0.06)(1255,-0.06)(1258,0.05)(1261,-0.04)(1265,0.03)(1269,-0.03)(1274,0.02)(1280,-0.02)(1286,0.015)(1292,-0.015)(1298,0.015)(1303,-0.01)
(1306,0.015)(1309,0.05)(1312,-0.09)(1315,0.11)(1318,-0.18)(1321,0.055)(1324,-0.06)(1327,0.05)(1330,-0.04)(1334,0.03)(1338,-0.03)(1343,0.02)(1349,-0.02)(1355,0.015)(1361,-0.015)(1367,0.015)(1372,-0.01)
(1375,0.015)(1378,0.05)(1381,-0.09)(1384,0.11)(1387,-0.18)(1390,0.055)(1393,-0.06)(1396,0.05)(1399,-0.04)(1403,0.03)(1407,-0.03)(1412,0.02)(1418,-0.02)(1424,0.015)(1430,-0.015)(1436,0.015)(1441,-0.01)
(1444,0.015)(1447,0.04)(1450,-0.05)(1453,0.07)(1456,-0.10)(1459,0.035)(1462,-0.05)(1465,0.04)(1468,-0.04)(1472,0.03)(1476,-0.03)(1481,0.02)(1487,-0.02)(1493,0.015)(1500,-0.015)};
\end{axis}
\begin{axis}[wave=551pt, at={(640pt,-257pt)}, anchor=north west, ymin=-0.062, ymax=0.042,
 ytick={-0.06,-0.04,-0.02,0,0.02,0.04}, yticklabels={-0.06,-0.04,-0.02,0,0.02,0.04}, ylabel={d\textsubscript{2}}]
\addplot[dtwo] coordinates {(0,0.005)(2,-0.01)(4,0.02)(6,-0.015)(9,0.01)(12,-0.006)(16,0.005)(21,-0.004)(27,0.004)(34,-0.003)(42,0.003)(50,-0.003)(58,0.003)
(64,0.004)(66,-0.008)(68,0.015)(70,-0.02)(72,0.03)(74,-0.052)(76,0.02)(78,-0.018)(80,0.015)(82,-0.012)(85,0.01)(88,-0.008)(92,0.006)(97,-0.005)(103,0.004)(110,-0.003)(118,0.003)(126,-0.003)
(133,0.004)(135,-0.008)(137,0.015)(139,-0.02)(141,0.025)(143,-0.03)(145,0.02)(147,-0.018)(149,0.015)(151,-0.012)(154,0.01)(157,-0.008)(161,0.006)(166,-0.005)(172,0.004)(179,-0.003)(187,0.003)(195,-0.003)
(202,0.004)(204,-0.008)(206,0.015)(208,-0.02)(210,0.04)(212,-0.057)(214,0.02)(216,-0.018)(218,0.015)(220,-0.012)(223,0.01)(226,-0.008)(230,0.006)(235,-0.005)(241,0.004)(248,-0.003)(256,0.003)(264,-0.003)
(271,0.004)(273,-0.008)(275,0.015)(277,-0.02)(279,0.025)(281,-0.028)(283,0.02)(285,-0.018)(287,0.015)(289,-0.012)(292,0.01)(295,-0.008)(299,0.006)(304,-0.005)(310,0.004)(317,-0.003)(325,0.003)(333,-0.003)
(340,0.004)(342,-0.008)(344,0.015)(346,-0.02)(348,0.04)(350,-0.062)(352,0.02)(354,-0.018)(356,0.015)(358,-0.012)(361,0.01)(364,-0.008)(368,0.006)(373,-0.005)(379,0.004)(386,-0.003)(394,0.003)(402,-0.003)
(409,0.004)(411,-0.008)(413,0.015)(415,-0.02)(417,0.03)(419,-0.03)(421,0.02)(423,-0.018)(425,0.015)(427,-0.012)(430,0.01)(433,-0.008)(437,0.006)(442,-0.005)(448,0.004)(455,-0.003)(463,0.003)(471,-0.003)
(478,0.004)(480,-0.008)(482,0.015)(484,-0.02)(486,0.028)(488,-0.045)(490,0.02)(492,-0.018)(494,0.015)(496,-0.012)(499,0.01)(502,-0.008)(506,0.006)(511,-0.005)(517,0.004)(524,-0.003)(532,0.003)(540,-0.003)
(547,0.004)(549,-0.008)(551,0.015)(553,-0.02)(555,0.025)(557,-0.048)(559,0.02)(561,-0.018)(563,0.015)(565,-0.012)(568,0.01)(571,-0.008)(575,0.006)(580,-0.005)(586,0.004)(593,-0.003)(601,0.003)(609,-0.003)
(616,0.004)(618,-0.008)(620,0.015)(622,-0.02)(624,0.03)(626,-0.03)(628,0.02)(630,-0.018)(632,0.015)(634,-0.012)(637,0.01)(640,-0.008)(644,0.006)(649,-0.005)(655,0.004)(662,-0.003)(670,0.003)(678,-0.003)
(685,0.004)(687,-0.008)(689,0.015)(691,-0.02)(693,0.028)(695,-0.05)(697,0.02)(699,-0.018)(701,0.015)(703,-0.012)(706,0.01)(709,-0.008)(713,0.006)(718,-0.005)(724,0.004)(731,-0.003)(739,0.003)(747,-0.003)
(754,0.004)(756,-0.008)(758,0.015)(760,-0.02)(762,0.04)(764,-0.032)(766,0.02)(768,-0.018)(770,0.015)(772,-0.012)(775,0.01)(778,-0.008)(782,0.006)(787,-0.005)(793,0.004)(800,-0.003)(808,0.003)(816,-0.003)
(823,0.004)(825,-0.008)(827,0.015)(829,-0.02)(831,0.028)(833,-0.05)(835,0.02)(837,-0.018)(839,0.015)(841,-0.012)(844,0.01)(847,-0.008)(851,0.006)(856,-0.005)(862,0.004)(869,-0.003)(877,0.003)(885,-0.003)
(892,0.004)(894,-0.008)(896,0.015)(898,-0.02)(900,0.025)(902,-0.03)(904,0.02)(906,-0.018)(908,0.015)(910,-0.012)(913,0.01)(916,-0.008)(920,0.006)(925,-0.005)(931,0.004)(938,-0.003)(946,0.003)(954,-0.003)
(961,0.004)(963,-0.008)(965,0.015)(967,-0.02)(969,0.03)(971,-0.028)(973,0.02)(975,-0.018)(977,0.015)(979,-0.012)(982,0.01)(985,-0.008)(989,0.006)(994,-0.005)(1000,0.004)(1007,-0.003)(1015,0.003)(1023,-0.003)
(1030,0.004)(1032,-0.008)(1034,0.015)(1036,-0.02)(1038,0.028)(1040,-0.032)(1042,0.02)(1044,-0.018)(1046,0.015)(1048,-0.012)(1051,0.01)(1054,-0.008)(1058,0.006)(1063,-0.005)(1069,0.004)(1076,-0.003)(1084,0.003)(1092,-0.003)
(1099,0.004)(1101,-0.008)(1103,0.015)(1105,-0.02)(1107,0.025)(1109,-0.045)(1111,0.02)(1113,-0.018)(1115,0.015)(1117,-0.012)(1120,0.01)(1123,-0.008)(1127,0.006)(1132,-0.005)(1138,0.004)(1145,-0.003)(1153,0.003)(1161,-0.003)
(1168,0.004)(1170,-0.008)(1172,0.015)(1174,-0.02)(1176,0.03)(1178,-0.03)(1180,0.02)(1182,-0.018)(1184,0.015)(1186,-0.012)(1189,0.01)(1192,-0.008)(1196,0.006)(1201,-0.005)(1207,0.004)(1214,-0.003)(1222,0.003)(1230,-0.003)
(1237,0.004)(1239,-0.008)(1241,0.015)(1243,-0.02)(1245,0.028)(1247,-0.042)(1249,0.02)(1251,-0.018)(1253,0.015)(1255,-0.012)(1258,0.01)(1261,-0.008)(1265,0.006)(1270,-0.005)(1276,0.004)(1283,-0.003)(1291,0.003)(1299,-0.003)
(1306,0.004)(1308,-0.008)(1310,0.015)(1312,-0.02)(1314,0.025)(1316,-0.03)(1318,0.02)(1320,-0.018)(1322,0.015)(1324,-0.012)(1327,0.01)(1330,-0.008)(1334,0.006)(1339,-0.005)(1345,0.004)(1352,-0.003)(1360,0.003)(1368,-0.003)
(1375,0.004)(1377,-0.008)(1379,0.015)(1381,-0.02)(1383,0.03)(1385,-0.032)(1387,0.02)(1389,-0.018)(1391,0.015)(1393,-0.012)(1396,0.01)(1399,-0.008)(1403,0.006)(1408,-0.005)(1414,0.004)(1421,-0.003)(1429,0.003)(1437,-0.003)
(1444,0.004)(1446,-0.008)(1448,0.015)(1450,-0.02)(1452,0.025)(1454,-0.028)(1456,0.02)(1458,-0.018)(1460,0.015)(1462,-0.012)(1465,0.01)(1468,-0.008)(1472,0.006)(1477,-0.005)(1483,0.004)(1490,-0.003)(1500,0.003)};
\end{axis}
\begin{axis}[wave=551pt, botx, at={(640pt,-320pt)}, anchor=north west, ymin=-0.022, ymax=0.019,
 ytick={-0.02,-0.01,0,0.01}, yticklabels={-0.02,-0.01,0,0.01}, ylabel={d\textsubscript{1}}]
\addplot[done] coordinates {(0,-0.02)(2,0.005)(6,-0.004)(10,0.004)(14,-0.003)(19,0.003)(24,-0.004)(30,0.003)(36,-0.003)(42,0.004)(48,-0.003)(54,0.003)(60,-0.004)
(66,0.003)(68,-0.006)(70,0.015)(72,-0.021)(74,0.015)(76,-0.012)(79,0.006)(82,-0.005)(86,0.004)(90,-0.004)(95,0.003)(100,-0.003)(106,0.004)(112,-0.003)(118,0.003)(124,-0.004)(130,0.003)
(135,0.003)(137,-0.006)(139,0.009)(141,-0.011)(143,0.009)(145,-0.007)(148,0.006)(151,-0.005)(155,0.004)(159,-0.004)(164,0.003)(169,-0.003)(175,0.004)(181,-0.003)(187,0.003)(193,-0.004)(199,0.003)
(204,0.003)(206,-0.006)(208,0.012)(210,-0.014)(212,0.012)(214,-0.01)(217,0.006)(220,-0.005)(224,0.004)(228,-0.004)(233,0.003)(238,-0.003)(244,0.004)(250,-0.003)(256,0.003)(262,-0.004)(268,0.003)
(273,0.003)(275,-0.006)(277,0.011)(279,-0.013)(281,0.011)(283,-0.009)(286,0.006)(289,-0.005)(293,0.004)(297,-0.004)(302,0.003)(307,-0.003)(313,0.004)(319,-0.003)(325,0.003)(331,-0.004)(337,0.003)
(342,0.003)(344,-0.006)(346,0.01)(348,-0.012)(350,0.01)(352,-0.008)(355,0.006)(358,-0.005)(362,0.004)(366,-0.004)(371,0.003)(376,-0.003)(382,0.004)(388,-0.003)(394,0.003)(400,-0.004)(406,0.003)
(411,0.003)(413,-0.006)(415,0.009)(417,-0.011)(419,0.009)(421,-0.007)(424,0.006)(427,-0.005)(431,0.004)(435,-0.004)(440,0.003)(445,-0.003)(451,0.004)(457,-0.003)(463,0.003)(469,-0.004)(475,0.003)
(480,0.003)(482,-0.006)(484,0.01)(486,-0.012)(488,0.016)(490,-0.008)(493,0.006)(496,-0.005)(500,0.004)(504,-0.004)(509,0.003)(514,-0.003)(520,0.004)(526,-0.003)(532,0.003)(538,-0.004)(544,0.003)
(549,0.003)(551,-0.006)(553,0.008)(555,-0.01)(557,0.008)(559,-0.006)(562,0.006)(565,-0.005)(569,0.004)(573,-0.004)(578,0.003)(583,-0.003)(589,0.004)(595,-0.003)(601,0.003)(607,-0.004)(613,0.003)
(618,0.003)(620,-0.006)(622,0.008)(624,-0.01)(626,0.008)(628,-0.006)(631,0.006)(634,-0.005)(638,0.004)(642,-0.004)(647,0.003)(652,-0.003)(658,0.004)(664,-0.003)(670,0.003)(676,-0.004)(682,0.003)
(687,0.003)(689,-0.006)(691,0.007)(693,-0.008)(695,0.01)(697,-0.006)(700,0.006)(703,-0.005)(707,0.004)(711,-0.004)(716,0.003)(721,-0.003)(727,0.004)(733,-0.003)(739,0.003)(745,-0.004)(751,0.003)
(756,0.003)(758,-0.006)(760,0.007)(762,-0.008)(764,0.007)(766,-0.006)(769,0.006)(772,-0.005)(776,0.004)(780,-0.004)(785,0.003)(790,-0.003)(796,0.004)(802,-0.003)(808,0.003)(814,-0.004)(820,0.003)
(825,0.003)(827,-0.006)(829,0.006)(831,-0.007)(833,0.006)(835,-0.005)(838,0.006)(841,-0.005)(845,0.004)(849,-0.004)(854,0.003)(859,-0.003)(865,0.004)(871,-0.003)(877,0.003)(883,-0.004)(889,0.003)
(894,0.003)(896,-0.006)(898,0.006)(900,-0.007)(902,0.006)(904,-0.005)(907,0.006)(910,-0.005)(914,0.004)(918,-0.004)(923,0.003)(928,-0.003)(934,0.004)(940,-0.003)(946,0.003)(952,-0.004)(958,0.003)
(963,0.003)(965,-0.006)(967,0.007)(969,-0.008)(971,0.007)(973,-0.006)(976,0.006)(979,-0.005)(983,0.004)(987,-0.004)(992,0.003)(997,-0.003)(1003,0.004)(1009,-0.003)(1015,0.003)(1021,-0.004)(1027,0.003)
(1032,0.003)(1034,-0.006)(1036,0.006)(1038,-0.007)(1040,0.006)(1042,-0.005)(1045,0.006)(1048,-0.005)(1052,0.004)(1056,-0.004)(1061,0.003)(1066,-0.003)(1072,0.004)(1078,-0.003)(1084,0.003)(1090,-0.004)(1096,0.003)
(1101,0.003)(1103,-0.006)(1105,0.007)(1107,-0.008)(1109,0.007)(1111,-0.006)(1114,0.006)(1117,-0.005)(1121,0.004)(1125,-0.004)(1130,0.003)(1135,-0.003)(1141,0.004)(1147,-0.003)(1153,0.003)(1159,-0.004)(1165,0.003)
(1170,0.003)(1172,-0.006)(1174,0.006)(1176,-0.007)(1178,0.006)(1180,-0.005)(1183,0.006)(1186,-0.005)(1190,0.004)(1194,-0.004)(1199,0.003)(1204,-0.003)(1210,0.004)(1216,-0.003)(1222,0.003)(1228,-0.004)(1234,0.003)
(1239,0.003)(1241,-0.006)(1243,0.007)(1245,-0.008)(1247,0.007)(1249,-0.006)(1252,0.006)(1255,-0.005)(1259,0.004)(1263,-0.004)(1268,0.003)(1273,-0.003)(1279,0.004)(1285,-0.003)(1291,0.003)(1297,-0.004)(1303,0.003)
(1308,0.003)(1310,-0.006)(1312,0.006)(1314,-0.007)(1316,0.006)(1318,-0.005)(1321,0.006)(1324,-0.005)(1328,0.004)(1332,-0.004)(1337,0.003)(1342,-0.003)(1348,0.004)(1354,-0.003)(1360,0.003)(1366,-0.004)(1372,0.003)
(1377,0.003)(1379,-0.006)(1381,0.006)(1383,-0.007)(1385,0.006)(1387,-0.005)(1390,0.006)(1393,-0.005)(1397,0.004)(1401,-0.004)(1406,0.003)(1411,-0.003)(1417,0.004)(1423,-0.003)(1429,0.003)(1435,-0.004)(1441,0.003)
(1446,0.003)(1448,-0.006)(1450,0.006)(1452,-0.007)(1454,0.006)(1456,-0.005)(1459,0.006)(1462,-0.005)(1466,0.004)(1470,-0.004)(1475,0.003)(1480,-0.003)(1486,0.004)(1492,-0.003)(1500,0.003)};
\end{axis}
% ================= Normal vowel ellipses =================
\begin{axis}[ellax, at={(48.3pt,-481pt)}, anchor=north west]
\ellip{327}{2405}{21}{75}{100}{rE}
\ellip{440}{1815}{34}{140}{100}{rE}
\ellip{600}{1727}{37}{144}{90}{rE}
\ellip{778}{1609}{46}{133}{90}{rE}
\ellip{342}{1200}{23}{206}{85}{rE}
\ellip{450}{1176}{26}{150}{95}{rE}
\ellip{618}{1236}{38}{73}{90}{rE}
\ellip{711}{1067}{50}{48}{75}{rE}
\ellip{322}{2407}{15}{87}{115}{gE}
\ellip{340}{2415}{28}{58}{95}{gE}
\ellip{434}{1867}{33}{106}{125}{gE}
\ellip{451}{1722}{34}{138}{80}{gE}
\ellip{606}{1808}{37}{213}{105}{gE}
\ellip{599}{1688}{39}{79}{125}{gE}
\ellip{766}{1643}{39}{202}{65}{gE}
\ellip{779}{1594}{46}{118}{105}{gE}
\ellip{349}{1252}{19.5}{258}{82}{gE}
\ellip{345}{1178}{16}{130}{75}{gE}
\ellip{451}{1258}{25.5}{130}{105}{gE}
\ellip{448}{1093}{28}{74}{155}{gE}
\ellip{618}{1256}{40}{68}{92}{gE}
\ellip{616}{1218}{34}{71}{85}{gE}
\ellip{705}{1067}{49}{48}{70}{gE}
\ellip{721}{1054}{40}{46}{70}{gE}
\addplot[redlab] table[meta=l, row sep=\\] {x y l\\ 441 1814 I\\ 604 1723 E\\ 784 1600 @\\ 345 1203 u\\ 456 1192 U\\ 718 1056 A\\};
\addplot[numlab] table[meta=l, row sep=\\] {x y l\\ 329 2403 15\\ 345 2410 7\\ 437 1870 5\\ 460 1723 13\\ 616 1823 14\\ 600 1675 6\\ 770 1649 1\\ 784 1594 9\\ 357 1281 12\\ 343 1152 4\\ 461 1258 16\\ 452 1093 8\\ 621 1259 2\\ 625 1210 10\\ 709 1063 3\\ 729 1048 11\\};
\end{axis}
% ================= MS vowel ellipses =================
\begin{axis}[ellax, at={(652pt,-479.5pt)}, anchor=north west]
\ellip{297}{2121}{35}{174}{90}{bE}
\ellip{358}{1775}{42}{215}{95}{bE}
\ellip{438}{1720}{43}{180}{85}{bE}
\ellip{485}{1762}{90}{172}{60}{bE}
\ellip{350}{1470}{55}{150}{90}{bE}
\ellip{310}{1400}{38}{210}{95}{bE}
\ellip{475}{1360}{55}{180}{95}{bE}
\ellip{303}{2320}{25}{114}{60}{gE}
\ellip{293}{2028}{36}{107}{95}{gE}
\ellip{471}{2005}{105}{95}{61}{gE}
\ellip{418}{1950}{90}{104}{117}{gE}
\ellip{354}{1907}{30}{92}{100}{gE}
\ellip{303}{1610}{52}{100}{100}{gE}
\ellip{372}{1560}{42}{150}{80}{gE}
\ellip{350}{1490}{52}{70}{115}{gE}
\ellip{410}{1645}{110}{140}{40}{gE}
\ellip{452}{1600}{78}{85}{100}{gE}
\ellip{500}{1715}{75}{95}{55}{gE}
\ellip{480}{1430}{47}{85}{80}{gE}
\ellip{440}{1365}{90}{155}{40}{gE}
\ellip{382}{1285}{38}{90}{50}{gE}
\ellip{316}{1247}{26}{118}{115}{gE}
\ellip{449}{1114}{69}{103}{70}{gE}
\addplot[bluelab=violet] table[meta=l, row sep=\\] {x y l\\ 299 2117 i\\ 360 1778 I\\};
\addplot[bluelab=blue] table[meta=l, row sep=\\] {x y l\\ 410 1756 E\\ 507 1768 @\\ 365 1394 U\\ 315 1405 u\\ 475 1331 A\\};
\addplot[numlab] table[meta=l, row sep=\\] {x y l\\ 306 2319 7\\ 304 2033 15\\ 475 2007 1\\ 426 1945 14\\ 358 1906 5\\ 509 1697 9\\ 403 1667 6\\ 313 1623 12\\ 453 1611 2\\ 376 1561 13\\ 358 1476 16\\ 483 1440 3\\ 442 1331 10\\ 386 1280 8\\ 308 1212 4\\ 457 1106 11\\};
\end{axis}
\node[font=\fontsize{31}{34}\selectfont\serifface] at (275pt,-962pt) {Normal};
\node[font=\fontsize{31}{34}\selectfont\serifface] at (912pt,-962pt) {MS};
\end{tikzpicture}
\end{document}
